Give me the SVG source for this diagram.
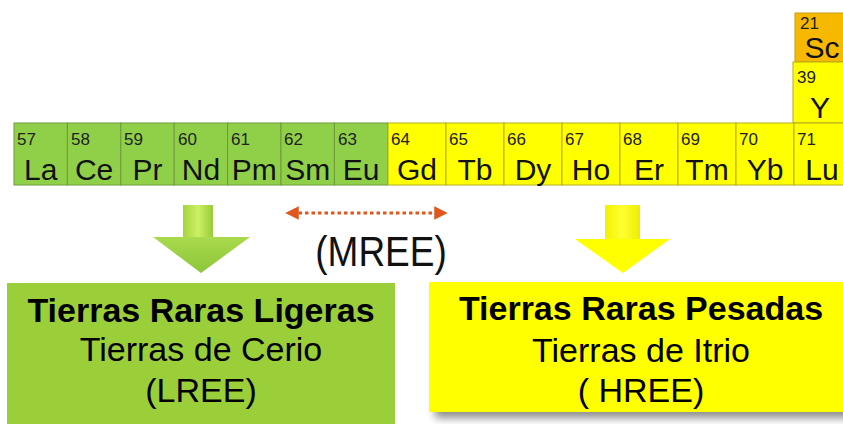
<svg xmlns="http://www.w3.org/2000/svg" width="843" height="424" viewBox="0 0 843 424">
<style>
.g{fill:#90d048;stroke:#6f9a3a;stroke-width:1}
.y{fill:#ffff00;stroke:#b5ac1e;stroke-width:1}
.o{fill:#f7b900;stroke:#c79a10;stroke-width:1}
.n{font-family:"Liberation Sans",Arial,sans-serif;font-size:17px;fill:#222}
.s{font-family:"Liberation Sans",Arial,sans-serif;font-size:30px;fill:#111;text-anchor:middle}
.b{font-family:"Liberation Sans",Arial,sans-serif;font-size:34px;fill:#000;text-anchor:middle}
.bb{font-weight:bold}
</style>
<defs>
<linearGradient id="ga" x1="0" y1="0" x2="0" y2="1">
<stop offset="0" stop-color="#c4ea5c"/><stop offset="1" stop-color="#8cc63a"/>
</linearGradient>
<linearGradient id="gs" x1="0" y1="0" x2="1" y2="0">
<stop offset="0" stop-color="#a6d43e"/><stop offset="0.5" stop-color="#cdf064"/><stop offset="1" stop-color="#98cc38"/>
</linearGradient>
<linearGradient id="ys" x1="0" y1="0" x2="1" y2="0">
<stop offset="0" stop-color="#f2f200"/><stop offset="0.5" stop-color="#ffff30"/><stop offset="1" stop-color="#eded00"/>
</linearGradient>
<filter id="sh" x="-10%" y="-10%" width="130%" height="140%">
<feGaussianBlur in="SourceAlpha" stdDeviation="4"/>
<feOffset dx="6" dy="6" result="b"/>
<feComponentTransfer><feFuncA type="linear" slope="0.45"/></feComponentTransfer>
<feMerge><feMergeNode/><feMergeNode in="SourceGraphic"/></feMerge>
</filter>
<marker id="ah" viewBox="0 0 10 10" refX="5" refY="5" markerWidth="4.5" markerHeight="4.5" orient="auto-start-reverse">
<path d="M0,0 L10,5 L0,10 Z" fill="#e0561c"/>
</marker>
</defs>
<rect width="843" height="424" fill="#ffffff"/>

<g id="table">
<g id="Sc"><rect class="o" x="795" y="13" width="55" height="49"/><text class="n" x="800" y="29">21</text><text class="s" x="822" y="58">Sc</text></g>
<g id="Y"><rect class="y" x="793" y="62" width="57" height="61"/><text class="n" x="797" y="83">39</text><text class="s" x="820" y="118">Y</text></g>
<g id="La"><rect class="g" x="14" y="123" width="53.4" height="62"/><text class="n" x="17" y="145">57</text><text class="s" x="40.7" y="180">La</text></g>
<g id="Ce"><rect class="g" x="67.4" y="123" width="53.4" height="62"/><text class="n" x="71" y="145">58</text><text class="s" x="94.1" y="180">Ce</text></g>
<g id="Pr"><rect class="g" x="120.8" y="123" width="53.4" height="62"/><text class="n" x="124" y="145">59</text><text class="s" x="147.5" y="180">Pr</text></g>
<g id="Nd"><rect class="g" x="174.2" y="123" width="53.4" height="62"/><text class="n" x="178" y="145">60</text><text class="s" x="200.9" y="180">Nd</text></g>
<g id="Pm"><rect class="g" x="227.6" y="123" width="53.4" height="62"/><text class="n" x="231" y="145">61</text><text class="s" x="254.3" y="180">Pm</text></g>
<g id="Sm"><rect class="g" x="281" y="123" width="53.4" height="62"/><text class="n" x="284" y="145">62</text><text class="s" x="307.7" y="180">Sm</text></g>
<g id="Eu"><rect class="g" x="334.4" y="123" width="53.4" height="62"/><text class="n" x="338" y="145">63</text><text class="s" x="361.1" y="180">Eu</text></g>
<g id="Gd"><rect class="y" x="388" y="123" width="58" height="62"/><text class="n" x="391" y="145">64</text><text class="s" x="417" y="180">Gd</text></g>
<g id="Tb"><rect class="y" x="446" y="123" width="58" height="62"/><text class="n" x="449" y="145">65</text><text class="s" x="475" y="180">Tb</text></g>
<g id="Dy"><rect class="y" x="504" y="123" width="58" height="62"/><text class="n" x="507" y="145">66</text><text class="s" x="533" y="180">Dy</text></g>
<g id="Ho"><rect class="y" x="562" y="123" width="58" height="62"/><text class="n" x="565" y="145">67</text><text class="s" x="591" y="180">Ho</text></g>
<g id="Er"><rect class="y" x="620" y="123" width="58" height="62"/><text class="n" x="623" y="145">68</text><text class="s" x="649" y="180">Er</text></g>
<g id="Tm"><rect class="y" x="678" y="123" width="58" height="62"/><text class="n" x="681" y="145">69</text><text class="s" x="707" y="180">Tm</text></g>
<g id="Yb"><rect class="y" x="736" y="123" width="58" height="62"/><text class="n" x="739" y="145">70</text><text class="s" x="765" y="180">Yb</text></g>
<g id="Lu"><rect class="y" x="794" y="123" width="56" height="62"/><text class="n" x="797" y="145">71</text><text class="s" x="822" y="180">Lu</text></g>
</g>

<g id="connectors">
<g id="arrow-green">
<path d="M183,205 L213,205 L213,237 L250,237 L201,273 L153,237 L183,237 Z" fill="url(#ga)"/>
<rect x="183" y="205" width="30" height="32" fill="url(#gs)"/>
</g>
<g id="arrow-yellow">
<path d="M605,205 L640,205 L640,239 L670,239 L623,273 L575,239 L605,239 Z" fill="#ffff00"/>
<rect x="605" y="205" width="35" height="34" fill="url(#ys)"/>
</g>
<line id="mree-arrow" x1="292" y1="213" x2="441" y2="213" stroke="#e0561c" stroke-width="3" stroke-dasharray="3.5 3" marker-start="url(#ah)" marker-end="url(#ah)"/>
</g>

<g id="MREE">
<text font-family="'Liberation Sans',Arial,sans-serif" font-size="37" fill="#111" text-anchor="middle" transform="translate(381,266) scale(1,1.17)">(MREE)</text>
</g>

<g id="LREE">
<rect x="7" y="283" width="388" height="145" fill="#9bcf3a"/>
<text class="b bb" x="201" y="322">Tierras Raras Ligeras</text>
<text class="b" x="201" y="361">Tierras de Cerio</text>
<text class="b" x="201" y="402">(LREE)</text>
</g>

<g id="HREE">
<rect x="429" y="282" width="430" height="130" fill="#ffff00" filter="url(#sh)"/>
<text class="b bb" x="641" y="320">Tierras Raras Pesadas</text>
<text class="b" x="641" y="362">Tierras de Itrio</text>
<text class="b" x="641" y="402">( HREE)</text>
</g>
</svg>
